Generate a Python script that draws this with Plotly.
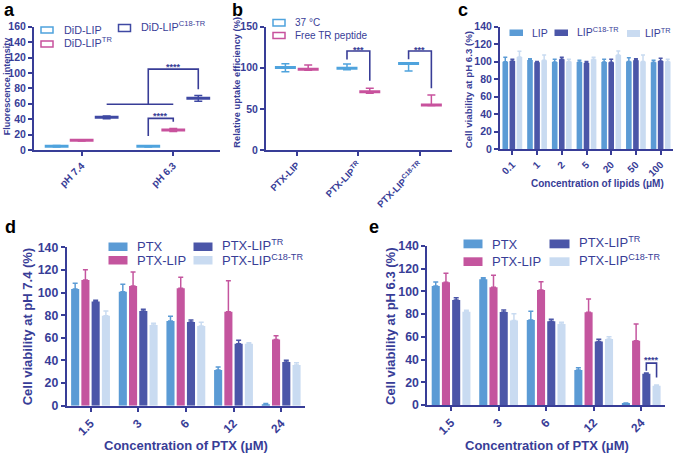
import plotly.graph_objects as go

# ---------------- data ----------------
a_groups = ["pH 7.4", "pH 6.3"]
a_lip = [5.0, 4.8]
a_lip_err = [1.0, 0.8]
a_tr = [12.5, 26.0]
a_tr_err = [0.8, 2.0]
a_c18 = [42.4, 67.0]
a_c18_err = [1.7, 3.7]

b_groups = ["PTX-LIP", "PTX-LIP<sup>TR</sup>", "PTX-LIP<sup>C18-TR</sup>"]
b_37 = [100.5, 99.4, 105.2]
b_37_up = [4.5, 5.2, 0.8]
b_37_dn = [5.2, 1.7, 9.2]
b_free = [98.1, 71.0, 54.7]
b_free_up = [5.3, 4.0, 12.2]
b_free_dn = [1.1, 2.0, 0.7]

c_conc = ["0.1", "1", "2", "5", "20", "50", "100"]
c_lip = [100.0, 101.9, 99.6, 99.6, 99.6, 100.3, 99.2]
c_lip_err = [5.0, 1.5, 3.0, 1.9, 3.0, 4.2, 2.3]
c_c18 = [100.7, 99.2, 102.6, 98.4, 99.2, 101.5, 100.7]
c_c18_err = [1.9, 1.0, 2.4, 1.9, 3.4, 1.9, 3.1]
c_tr = [105.3, 101.5, 100.3, 102.6, 107.6, 100.3, 100.3]
c_tr_err = [6.7, 6.1, 2.3, 2.4, 4.6, 7.3, 2.3]

d_conc = ["1.5", "3", "6", "12", "24"]
d_ptx = [103.2, 100.8, 74.9, 31.5, 1.2]
d_ptx_err = [5.0, 6.5, 4.1, 2.7, 0.8]
d_lip = [111.0, 105.8, 103.7, 83.1, 58.6]
d_lip_err = [9.2, 12.4, 9.8, 27.4, 3.3]
d_tr = [92.0, 83.7, 74.0, 54.8, 38.6]
d_tr_err = [1.1, 1.5, 1.7, 3.0, 1.5]
d_c18 = [79.6, 71.3, 70.4, 54.8, 36.0]
d_c18_err = [4.1, 1.5, 3.3, 0.9, 2.0]

e_conc = ["1.5", "3", "6", "12", "24"]
e_ptx = [104.8, 110.7, 74.8, 30.8, 1.2]
e_ptx_err = [3.5, 1.4, 7.7, 2.1, 0.6]
e_lip = [108.0, 103.6, 101.3, 81.6, 56.6]
e_lip_err = [8.0, 10.6, 7.3, 11.7, 14.7]
e_tr = [92.5, 81.9, 73.7, 56.0, 27.6]
e_tr_err = [2.0, 1.7, 1.7, 1.8, 0.6]
e_c18 = [82.2, 74.3, 71.3, 58.1, 17.0]
e_c18_err = [1.2, 6.1, 1.5, 2.1, 0.6]

# ---------------- style ----------------
W, H = 685, 456
FONT = "Liberation Sans"
TXT = "#383D97"
C_MID = "#5B9BD5"
C_PINK = "#C4559E"
C_DARK = "#4B56A8"
C_LIGHT = "#C9DBF1"
A_BLUE = "#4FA3DD"
A_PINK = "#C8529D"
A_DARK = "#3F49A3"
BARGAP = 0.14
GROUPGAP = 0.21


def px(x):
    return x / W


def py(y):
    return 1 - y / H


fig = go.Figure()


def yaxis_style(domain, rng, dtick, anchor, size):
    return dict(domain=domain, range=rng, dtick=dtick, anchor=anchor,
                showline=True, linecolor=TXT, linewidth=2, showgrid=False,
                zeroline=False, ticks="outside", ticklen=4, tickwidth=2,
                tickcolor=TXT, automargin=False,
                tickfont=dict(family=FONT, size=size, color=TXT, weight="bold"))


def xaxis_style(domain, anchor, size, **kw):
    d = dict(domain=domain, anchor=anchor, showline=True, linecolor=TXT,
             linewidth=2, showgrid=False, zeroline=False, ticks="outside",
             ticklen=4, tickwidth=2, tickcolor=TXT, tickangle=-45,
             automargin=False,
             tickfont=dict(family=FONT, size=size, color=TXT, weight="bold"))
    d.update(kw)
    return d


# ---------------- panel a ----------------
a_off = [-0.273, 0.0, 0.273]
a_series = [(a_lip, a_lip_err, A_BLUE), (a_tr, a_tr_err, A_PINK), (a_c18, a_c18_err, A_DARK)]
for k, (vals, err, col) in enumerate(a_series):
    fig.add_trace(go.Scatter(
        x=[i + a_off[k] for i in range(len(a_groups))], y=vals,
        mode="markers", xaxis="x", yaxis="y",
        marker=dict(symbol="line-ew", size=17, line=dict(color=col, width=3)),
        error_y=dict(type="data", array=err, color=col, thickness=1.5, width=4)))

a_br_x = [[1 + a_off[0], 1 + a_off[0], 1 + a_off[1], 1 + a_off[1]],
          [1 + a_off[0], 1 + a_off[0], 1 + a_off[2], 1 + a_off[2]],
          [0 + a_off[2], 1 + a_off[1]]]
a_br_y = [[18.2, 41.1, 41.1, 36.8], [59.3, 105, 105, 78.8], [59.3, 59.3]]
for bx, by in zip(a_br_x, a_br_y):
    fig.add_trace(go.Scatter(x=bx, y=by, mode="lines", xaxis="x", yaxis="y",
                             line=dict(color=TXT, width=1.6)))

# ---------------- panel b ----------------
b_off = [-0.185, 0.185]
b_series = [(b_37, b_37_up, b_37_dn, A_BLUE), (b_free, b_free_up, b_free_dn, A_PINK)]
for k, (vals, up, dn, col) in enumerate(b_series):
    fig.add_trace(go.Scatter(
        x=[i + b_off[k] for i in range(len(b_groups))], y=vals,
        mode="markers", xaxis="x2", yaxis="y2",
        marker=dict(symbol="line-ew", size=15, line=dict(color=col, width=3)),
        error_y=dict(type="data", symmetric=False, array=up, arrayminus=dn,
                     color=col, thickness=1.5, width=4)))

b_br_y = [[110.0, 120.4, 120.4, 84.3], [110.3, 120.4, 120.4, 75.0]]
for g, by in zip([1, 2], b_br_y):
    fig.add_trace(go.Scatter(x=[g + b_off[0], g + b_off[0], g + b_off[1], g + b_off[1]],
                             y=by, mode="lines", xaxis="x2", yaxis="y2",
                             line=dict(color=TXT, width=1.6)))


# ---------------- bars c, d, e ----------------
def add_bars(cats, series, xa, ya, ew):
    idx = list(range(len(cats)))
    for vals, err, col in series:
        fig.add_trace(go.Bar(
            x=idx, y=vals, xaxis=xa, yaxis=ya, marker=dict(color=col, line=dict(width=0)),
            error_y=dict(type="data", symmetric=False, array=err,
                         arrayminus=[0] * len(err), color=col, thickness=1.5, width=ew)))


add_bars(c_conc, [(c_lip, c_lip_err, C_MID), (c_c18, c_c18_err, C_DARK), (c_tr, c_tr_err, C_LIGHT)],
         "x3", "y3", 2)
add_bars(d_conc, [(d_ptx, d_ptx_err, C_MID), (d_lip, d_lip_err, C_PINK),
                  (d_tr, d_tr_err, C_DARK), (d_c18, d_c18_err, C_LIGHT)], "x4", "y4", 2.5)
add_bars(e_conc, [(e_ptx, e_ptx_err, C_MID), (e_lip, e_lip_err, C_PINK),
                  (e_tr, e_tr_err, C_DARK), (e_c18, e_c18_err, C_LIGHT)], "x5", "y5", 2.5)

# significance bracket in e (TR vs C18-TR at 24 uM)
slot = (1 - BARGAP) / 4
e_tr_x = len(e_conc) - 1 - (1 - BARGAP) / 2 + slot * 2.5
e_c18_x = len(e_conc) - 1 - (1 - BARGAP) / 2 + slot * 3.5
fig.add_trace(go.Scatter(x=[e_tr_x, e_tr_x, e_c18_x, e_c18_x], y=[30.2, 36.9, 36.9, 24.3],
                         mode="lines", xaxis="x5", yaxis="y5",
                         line=dict(color=TXT, width=1.6)))


def cat_axis(cats):
    return dict(range=[-0.5, len(cats) - 0.5], tickvals=list(range(len(cats))), ticktext=cats)


# ---------------- layout ----------------
layout = dict(
    width=W, height=H, margin=dict(l=0, r=0, t=0, b=0),
    paper_bgcolor="white", plot_bgcolor="white", showlegend=False,
    barmode="group", bargap=BARGAP, bargroupgap=GROUPGAP,
    font=dict(family=FONT, color=TXT),
    xaxis=xaxis_style([px(34), px(220)], "y", 10, range=[-0.52, 1.51],
                      tickvals=[0, 1], ticktext=a_groups),
    yaxis=yaxis_style([py(150), py(26.7)], [0, 160], 20, "x", 10.5),
    xaxis2=xaxis_style([px(266), px(452)], "y2", 9.5, range=[-0.5, 2.52],
                       tickvals=[0, 1, 2], ticktext=b_groups),
    yaxis2=yaxis_style([py(150), py(26.7)], [0, 150], 50, "x2", 10.5),
    xaxis3=xaxis_style([px(500), px(673)], "y3", 10, **cat_axis(c_conc)),
    yaxis3=yaxis_style([py(149), py(26.7)], [0, 140], 20, "x3", 10.5),
    xaxis4=xaxis_style([px(66.7), px(305)], "y4", 12, **cat_axis(d_conc)),
    yaxis4=yaxis_style([py(405.7), py(247.3)], [0, 140], 20, "x4", 12.3),
    xaxis5=xaxis_style([px(427.3), px(665)], "y5", 12, **cat_axis(e_conc)),
    yaxis5=yaxis_style([py(405), py(246)], [0, 140], 20, "x5", 12.3),
)

ann = []


def text(x, y, s, size, bold=False, angle=0, color=TXT, xanchor="center", **kw):
    d = dict(xref="paper", yref="paper", x=px(x), y=py(y), text=s, showarrow=False,
             xanchor=xanchor, yanchor="middle", textangle=angle,
             font=dict(family=FONT, size=size, color=color, weight="bold" if bold else "normal"))
    d.update(kw)
    ann.append(d)


# panel letters
text(9, 9.5, "a", 18, True, color="black")
text(237, 9.5, "b", 18, True, color="black")
text(462.5, 9.5, "c", 18, True, color="black")
text(10, 227, "d", 18, True, color="black")
text(374, 227, "e", 18, True, color="black")

# axis titles
text(7.3, 86, "Fluorescence intensity", 9, True, -90)
text(236.7, 82, "Relative uptake efficiency (%)", 9.3, True, -90)
text(468.3, 90, "Cell viability at pH 6.3 (%)", 9.7, True, -90)
text(597, 184, "Concentration of lipids (μM)", 10, True)
text(27.3, 326, "Cell viability at pH 7.4 (%)", 13, True, -90)
text(185.5, 445, "Concentration of PTX (μM)", 13, True)
text(390, 326, "Cell viability at pH 6.3 (%)", 13, True, -90)
text(546.7, 445, "Concentration of PTX (μM)", 13, True)

# legends (swatch rectangles + labels)
shapes = []


def swatch(x0, y0, x1, y1, col, filled):
    shapes.append(dict(type="rect", xref="paper", yref="paper",
                       x0=px(x0), x1=px(x1), y0=py(y1), y1=py(y0),
                       line=dict(color=col, width=0 if filled else 1.5),
                       fillcolor=col if filled else "rgba(0,0,0,0)"))


swatch(41, 27, 53, 33, A_BLUE, False)
text(62, 30, "DiD-LIP", 10.8, xanchor="left")
swatch(41, 41, 53, 47, A_PINK, False)
text(62, 42.5, "DiD-LIP<sup>TR</sup>", 10.8, xanchor="left")
swatch(118.5, 24.5, 130.5, 31.5, A_DARK, False)
text(139, 26.5, "DiD-LIP<sup>C18-TR</sup>", 10.8, xanchor="left")

swatch(273, 19.5, 285, 26, A_BLUE, False)
text(293, 22.5, "37 °C", 10, xanchor="left")
swatch(273, 32.5, 285, 38.5, A_PINK, False)
text(293, 35.5, "Free TR peptide", 10, xanchor="left")

swatch(509.5, 29.5, 523, 36, C_MID, True)
text(530, 33, "LIP", 10.5, xanchor="left")
swatch(554.5, 29.5, 568, 36, C_DARK, True)
text(575, 31, "LIP<sup>C18-TR</sup>", 10.5, xanchor="left")
swatch(627, 30, 640, 37, C_LIGHT, True)
text(643, 32.5, "LIP<sup>TR</sup>", 10.5, xanchor="left")

swatch(108.5, 242.5, 127.5, 251, C_MID, True)
text(135, 246.7, "PTX", 13, xanchor="left")
swatch(108.5, 256, 127.5, 264.5, C_PINK, True)
text(135, 260, "PTX-LIP", 13, xanchor="left")
swatch(193.5, 242.5, 212.5, 251, C_DARK, True)
text(220, 245, "PTX-LIP<sup>TR</sup>", 13, xanchor="left")
swatch(193.5, 256, 212.5, 264.5, C_LIGHT, True)
text(220, 260, "PTX-LIP<sup>C18-TR</sup>", 13, xanchor="left")

swatch(463.5, 239.5, 482.5, 248.3, C_MID, True)
text(490, 244, "PTX", 13, xanchor="left")
swatch(463.5, 257.3, 482.5, 266, C_PINK, True)
text(490, 261.7, "PTX-LIP", 13, xanchor="left")
swatch(549.5, 239.5, 569.5, 248.3, C_DARK, True)
text(576.7, 242, "PTX-LIP<sup>TR</sup>", 13, xanchor="left")
swatch(549.5, 257.3, 569.5, 266, C_LIGHT, True)
text(576.7, 260, "PTX-LIP<sup>C18-TR</sup>", 13, xanchor="left")


# significance stars (data coordinates)
def stars(xa, ya, x, y, s):
    ann.append(dict(xref=xa, yref=ya, x=x, y=y, text=s, showarrow=False,
                    xanchor="center", yanchor="middle", yshift=-2,
                    font=dict(family=FONT, size=9, color=TXT, weight="bold")))


stars("x", "y", 1 + (a_off[0] + a_off[1]) / 2, 46.7, "****")
stars("x", "y", 1 + (a_off[0] + a_off[2]) / 2, 110, "****")
stars("x2", "y2", 1, 124.5, "***")
stars("x2", "y2", 2, 124.5, "***")
stars("x5", "y5", (e_tr_x + e_c18_x) / 2, 41.5, "****")

layout["annotations"] = ann
layout["shapes"] = shapes
fig.update_layout(**layout)
fig.write_html(
    "out.html",
    config={"displayModeBar": False},
    post_script="document.body.style.margin='0px';document.body.style.padding='0px';"
                "document.body.style.overflow='hidden';",
)
